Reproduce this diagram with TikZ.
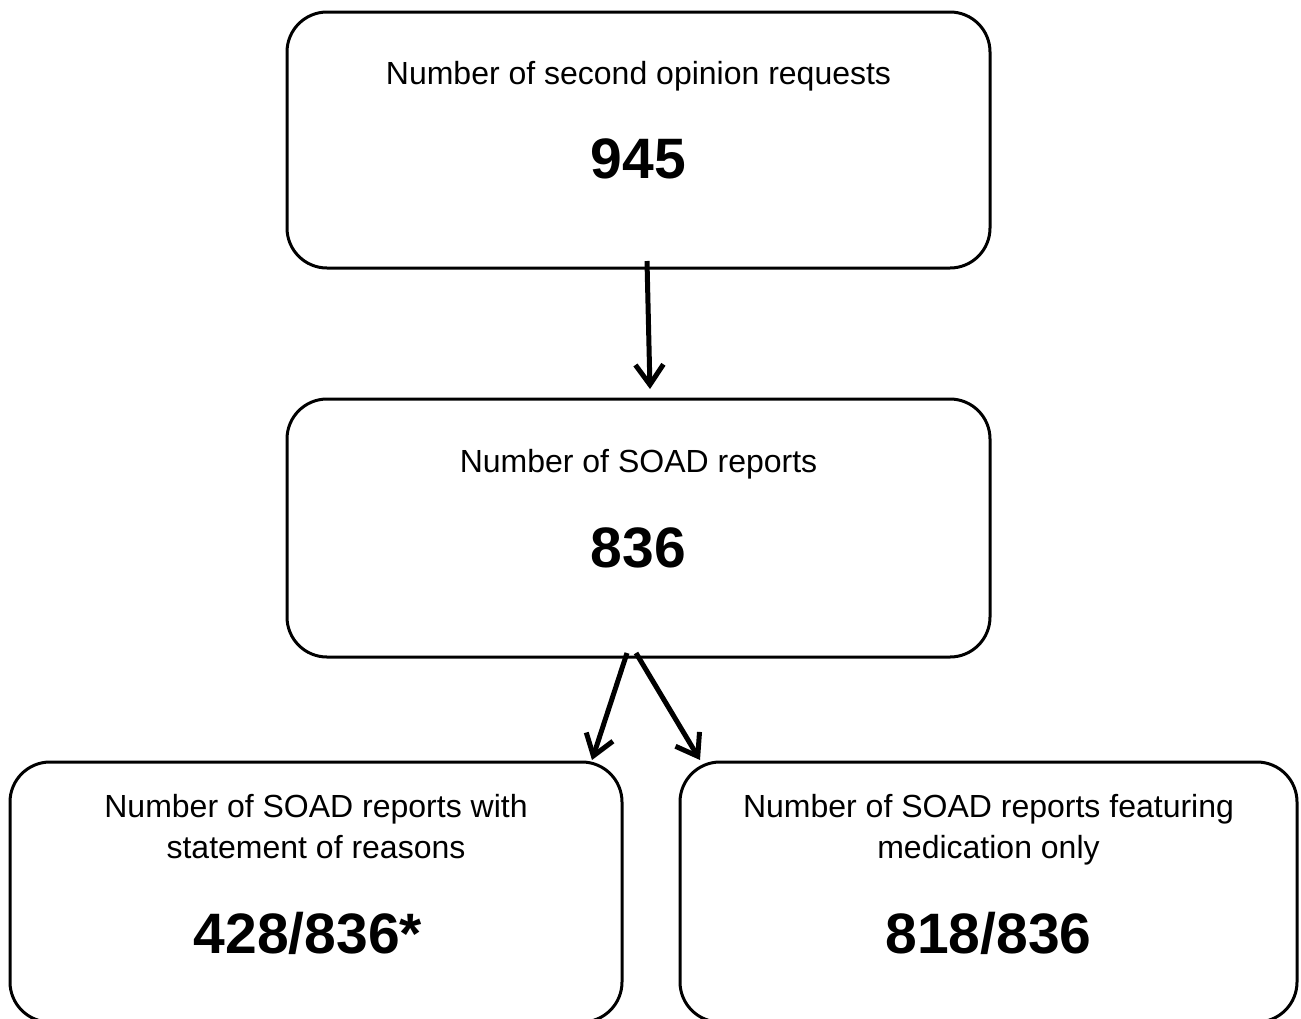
\documentclass[tikz,border=0pt]{standalone}
\usepackage{fontspec}
\setmainfont{Liberation Sans}
\usetikzlibrary{arrows.meta}
\tikzset{
  box/.style={draw=black, line width=3pt, rounded corners=40pt, inner sep=0pt, outer sep=0pt},
  lbl/.style={anchor=base, inner sep=0pt, font=\fontsize{32}{41}\selectfont, align=center},
  num/.style={anchor=base, inner sep=0pt, font=\fontsize{57}{66}\selectfont\bfseries},
  conn/.style={line width=5pt, -{Straight Barb[length=20pt,width=28pt]}}
}
\begin{document}
\begin{tikzpicture}[x=1pt,y=-1pt]
\useasboundingbox (0,0) rectangle (1301,1018);
\node[box, minimum width=703pt, minimum height=256pt] (top) at (638.5,140) {};
\node[box, minimum width=703pt, minimum height=258pt] (mid) at (638.5,528) {};
\node[box, minimum width=612pt, minimum height=260pt] (left) at (316,892) {};
\node[box, minimum width=617pt, minimum height=260pt] (right) at (988.5,892) {};

\node[lbl] (t1) at (638.5,84) {Number of second opinion requests};
\node[num] (t2) at (638.5,178) {945};
\node[lbl] (m1) at (638.5,472) {Number of SOAD reports};
\node[num] (m2) at (638.5,567) {836};
\node[lbl] (l1) at (316,858) {Number of SOAD reports with\\statement of reasons};
\node[num] (l2) at (308,953) {428/836*};
\node[lbl] (r1) at (988.5,858) {Number of SOAD reports featuring\\medication only};
\node[num] (r2) at (988.5,953) {818/836};

\coordinate (a1s) at (647,261);
\coordinate (a1e) at (650,389);
\coordinate (a2s) at (627,653);
\coordinate (a2e) at (592,760);
\coordinate (a3s) at (636,653);
\coordinate (a3e) at (700,760);
\draw[conn] (a1s) -- (a1e);
\draw[conn] (a2s) -- (a2e);
\draw[conn] (a3s) -- (a3e);
\end{tikzpicture}
\end{document}
